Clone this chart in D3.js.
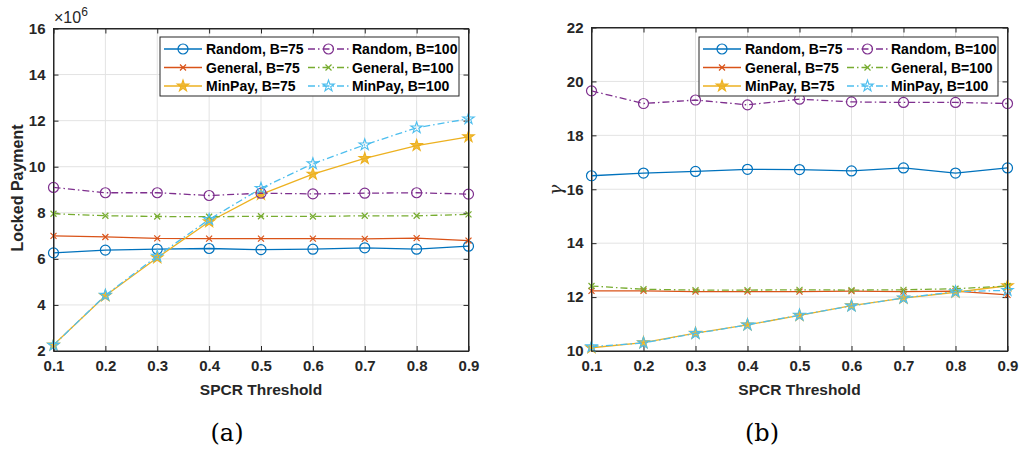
<!DOCTYPE html>
<html><head><meta charset="utf-8">
<script src="https://cdn.jsdelivr.net/npm/d3@7"></script>
<style>
body{margin:0;background:#fff;}
</style></head>
<body><svg id="c" width="1021" height="450"></svg>
<script>
const xs = [0.1,0.2,0.3,0.4,0.5,0.6,0.7,0.8,0.9];
const xTicks = [0.1,0.2,0.3,0.4,0.5,0.6,0.7,0.8,0.9];
const yTicksA = [2,4,6,8,10,12,14,16];
const yTicksB = [10,12,14,16,18,20,22];
const seriesNames = ["Random, B=75","General, B=75","MinPay, B=75","Random, B=100","General, B=100","MinPay, B=100"];

// (a) Locked Payment, x10^6
const aRandom75  = [6.26,6.38,6.42,6.45,6.40,6.42,6.48,6.42,6.55];
const aGeneral75 = [7.00,6.95,6.89,6.88,6.88,6.88,6.87,6.90,6.79];
const aMinPay75  = [2.26,4.40,6.05,7.61,8.80,9.68,10.36,10.92,11.30];
const aRandom100 = [9.10,8.87,8.87,8.75,8.85,8.82,8.85,8.87,8.81];
const aGeneral100= [7.96,7.87,7.84,7.83,7.85,7.84,7.87,7.87,7.93];
const aMinPay100 = [2.25,4.42,6.12,7.71,9.06,10.13,10.95,11.69,12.08];

// (b) gamma
const bRandom75  = [16.50,16.60,16.66,16.74,16.73,16.68,16.79,16.60,16.79];
const bGeneral75 = [12.23,12.23,12.20,12.20,12.20,12.22,12.20,12.22,12.08];
const bMinPay75  = [10.12,10.31,10.66,10.97,11.32,11.68,11.96,12.18,12.42];
const bRandom100 = [19.65,19.18,19.31,19.13,19.34,19.24,19.22,19.22,19.18];
const bGeneral100= [12.41,12.29,12.26,12.26,12.27,12.26,12.27,12.31,12.41];
const bMinPay100 = [10.16,10.30,10.65,10.97,11.33,11.67,11.97,12.20,12.25];

const colors = ["#0072BD","#D95319","#EDB120","#7E2F8E","#77AC30","#4DBEEE"];
const markers = ["circle","x","starFill","circle","x","star"];
const dashed = [false,false,false,true,true,true];
const axisColor = "#262626";
const SANS = "'Liberation Sans', Arial, Helvetica, sans-serif";
const SERIF = "'DejaVu Serif', serif";

const svg = d3.select("#c");
svg.append("rect").attr("width",1021).attr("height",450).attr("fill","#fff");

function starPath(R){
  const r = R*0.382; let p=[];
  for(let i=0;i<10;i++){
    const a = -Math.PI/2 + i*Math.PI/5;
    const rad = i%2===0?R:r;
    p.push([rad*Math.cos(a), rad*Math.sin(a)]);
  }
  return "M"+p.map(q=>q[0].toFixed(2)+","+q[1].toFixed(2)).join("L")+"Z";
}
function drawMarker(g, type, cx, cy, color){
  if(type==="circle"){
    g.append("circle").attr("cx",cx).attr("cy",cy).attr("r",5)
      .attr("fill","none").attr("stroke",color).attr("stroke-width",1.2);
  } else if(type==="x"){
    const s=3;
    g.append("path").attr("d",`M${cx-s},${cy-s}L${cx+s},${cy+s}M${cx-s},${cy+s}L${cx+s},${cy-s}`)
      .attr("stroke",color).attr("stroke-width",1.2).attr("fill","none");
  } else {
    g.append("path").attr("d",starPath(6)).attr("transform",`translate(${cx},${cy})`)
      .attr("fill", type==="starFill"?color:"none").attr("fill-opacity",type==="starFill"?0.85:1)
      .attr("stroke",color).attr("stroke-width",1.1).attr("stroke-linejoin","miter");
  }
}

function panel(cfg){
  const x = d3.scaleLinear().domain([0.1,0.9]).range([cfg.x0,cfg.x1]);
  const y = d3.scaleLinear().domain(cfg.ydom).range([cfg.y0,cfg.y1]);
  const g = svg.append("g");
  // grid
  g.append("g").selectAll("line").data(xTicks).join("line")
    .attr("x1",d=>x(d)).attr("x2",d=>x(d)).attr("y1",cfg.y0).attr("y2",cfg.y1)
    .attr("stroke","#e3e3e3").attr("stroke-width",1);
  g.append("g").selectAll("line").data(cfg.yticks).join("line")
    .attr("y1",d=>y(d)).attr("y2",d=>y(d)).attr("x1",cfg.x0).attr("x2",cfg.x1)
    .attr("stroke","#e3e3e3").attr("stroke-width",1);
  const ax = g.append("g").attr("transform",`translate(0,${cfg.y0})`)
    .call(d3.axisBottom(x).tickValues(xTicks).tickFormat(d3.format(".1f")).tickSizeInner(-5).tickSizeOuter(0).tickPadding(9));
  const ay = g.append("g").attr("transform",`translate(${cfg.x0},0)`)
    .call(d3.axisLeft(y).tickValues(cfg.yticks).tickFormat(d3.format("d")).tickSizeInner(-5).tickSizeOuter(0).tickPadding(8));
  const axT = g.append("g").attr("transform",`translate(0,${cfg.y1})`)
    .call(d3.axisTop(x).tickValues(xTicks).tickFormat("").tickSizeInner(-5).tickSizeOuter(0));
  const ayR = g.append("g").attr("transform",`translate(${cfg.x1},0)`)
    .call(d3.axisRight(y).tickValues(cfg.yticks).tickFormat("").tickSizeInner(-5).tickSizeOuter(0));
  [ax,ay,axT,ayR].forEach(a=>{
    a.attr("font-family",null).attr("font-size",null);
    a.select(".domain").attr("stroke",axisColor).attr("stroke-width",1);
    a.selectAll(".tick line").attr("stroke",axisColor).attr("stroke-width",1);
    a.selectAll("text").attr("fill",axisColor).style("font-size","15px").style("font-weight","bold")
      .style("font-family",SANS);
  });
  const line = d3.line().x((d,i)=>x(xs[i])).y(d=>y(d));
  cfg.data.forEach((s,k)=>{
    const sg = g.append("g");
    sg.append("path").attr("d",line(s)).attr("fill","none").attr("stroke",colors[k])
      .attr("stroke-width",1.3).attr("stroke-dasharray",dashed[k]?"7,3,1.5,3":null);
    s.forEach((v,i)=>drawMarker(sg,markers[k],x(xs[i]),y(v),colors[k]));
  });
  g.append("rect").attr("x",cfg.x0).attr("y",cfg.y1).attr("width",cfg.x1-cfg.x0).attr("height",cfg.y0-cfg.y1)
    .attr("fill","none").attr("stroke",axisColor).attr("stroke-width",1);
  // legend
  const L = g.append("g").attr("transform",`translate(${cfg.lx},${cfg.ly})`);
  L.append("rect").attr("x",0).attr("y",0).attr("width",299).attr("height",59)
    .attr("fill","#fff").attr("stroke",axisColor).attr("stroke-width",1);
  const order = [0,3,1,4,2,5];
  order.forEach((k,j)=>{
    const col = j%2, row = Math.floor(j/2);
    const cy = 12 + row*18.5;
    const lx0 = col===0?4:148, lx1 = col===0?42:189, tx = col===0?46:192;
    L.append("line").attr("x1",lx0).attr("x2",lx1).attr("y1",cy).attr("y2",cy)
      .attr("stroke",colors[k]).attr("stroke-width",1.3).attr("stroke-dasharray",dashed[k]?"7,3,1.5,3":null);
    drawMarker(L,markers[k],(lx0+lx1)/2,cy,colors[k]);
    L.append("text").attr("x",tx).attr("y",cy+5).style("font-size","14px").style("font-weight","bold")
      .style("font-family",SANS).attr("fill","#000").text(seriesNames[k]);
  });
  g.append("text").attr("x",(cfg.x0+cfg.x1)/2).attr("y",395).attr("text-anchor","middle")
    .style("font-size","15.5px").style("font-weight","bold").style("font-family",SANS)
    .attr("fill",axisColor).text("SPCR Threshold");
  g.append("text").attr("x",cfg.capx).attr("y",441).attr("text-anchor","middle")
    .style("font-size","24px").style("font-family",SERIF).attr("fill","#000").text(cfg.caption);
  return g;
}

const gA = panel({x0:53.5,x1:468.5,y0:351,y1:28.5,ydom:[2,16],yticks:yTicksA,
  data:[aRandom75,aGeneral75,aMinPay75,aRandom100,aGeneral100,aMinPay100],
  lx:160,ly:37,capx:227,caption:"(a)"});
gA.append("text").attr("transform","translate(23,188) rotate(-90)").attr("text-anchor","middle")
  .style("font-size","16px").style("font-weight","bold").style("font-family",SANS)
  .attr("fill",axisColor).text("Locked Payment");
const ex = gA.append("text").attr("x",54).attr("y",23).style("font-size","16px")
  .style("font-family",SANS).attr("fill",axisColor);
ex.append("tspan").text("×10");
ex.append("tspan").attr("dy",-7).style("font-size","12px").text("6");

const gB = panel({x0:591.5,x1:1007.5,y0:351,y1:27.5,ydom:[10,22],yticks:yTicksB,
  data:[bRandom75,bGeneral75,bMinPay75,bRandom100,bGeneral100,bMinPay100],
  lx:699,ly:37,capx:762,caption:"(b)"});
gB.append("text").attr("transform","translate(562,190) rotate(-90)").attr("text-anchor","middle")
  .style("font-size","18px").style("font-style","italic").style("font-family",SERIF)
  .attr("fill",axisColor).text("γ");
</script></body></html>
